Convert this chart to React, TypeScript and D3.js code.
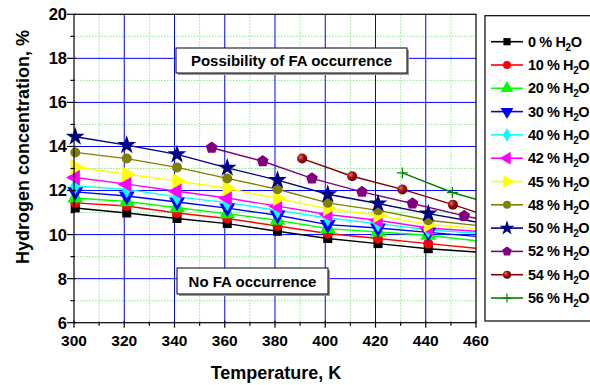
import React from "react";
import * as d3 from "d3";

const W = 590;
const H = 385;
const M = { left: 74, right: 476, top: 14.3, bottom: 322.7 };

const xTicks = [300, 320, 340, 360, 380, 400, 420, 440, 460];
const yTicks = [6, 8, 10, 12, 14, 16, 18, 20];
const xMinor = [310, 330, 350, 370, 390, 410, 430, 450];
const yMinor = [7, 9, 11, 13, 15, 17, 19];

const tBase = [300.5, 321, 341, 361, 381, 401, 421, 441, 460];

const water = ["0", "10", "20", "30", "40", "42", "45", "48", "50", "52", "54", "56"];
const colors = ["#000000", "#ff0000", "#00ff00", "#0000ff", "#00ffff", "#ff00ff", "#ffff00", "#808000", "#000080", "#800080", "#800000", "#008000"];
const markers = ["square", "circle", "up", "down", "diamond", "left", "right", "circle", "star", "pentagon", "sphere", "cross"];

const v0 = [11.21, 10.98, 10.73, 10.5, 10.15, 9.82, 9.59, 9.36, 9.21];
const v10 = [11.44, 11.3, 10.98, 10.73, 10.39, 10.05, 9.82, 9.59, 9.38];
const v20 = [11.66, 11.5, 11.22, 10.95, 10.65, 10.27, 10.12, 9.97, 9.72];
const v30 = [11.94, 11.75, 11.48, 11.2, 10.88, 10.45, 10.3, 10.1, 9.92];
const v40 = [12.21, 12.05, 11.71, 11.45, 11.1, 10.75, 10.5, 10.22, 10.06];
const v42 = [12.59, 12.29, 11.97, 11.66, 11.29, 10.91, 10.65, 10.3, 10.15];
const v45 = [13.07, 12.74, 12.44, 12.09, 11.64, 11.18, 10.88, 10.45, 10.28];
const v48 = [13.73, 13.45, 13.05, 12.55, 12.06, 11.44, 11.1, 10.65, 10.42];
const v50 = [14.44, 14.06, 13.64, 13.03, 12.47, 11.83, 11.41, 10.95, 10.57];
const t52 = [354.8, 375.1, 394.7, 414.6, 434.7, 455.3, 460];
const v52 = [13.94, 13.33, 12.55, 11.94, 11.41, 10.85, 10.74];
const t54 = [390.8, 410.7, 430.7, 450.8, 460];
const v54 = [13.45, 12.65, 12.05, 11.36, 11.02];
const t56 = [430.7, 450.6, 460];
const v56 = [12.8, 11.91, 11.6];

const seriesT = [tBase, tBase, tBase, tBase, tBase, tBase, tBase, tBase, tBase, t52, t54, t56];
const seriesV = [v0, v10, v20, v30, v40, v42, v45, v48, v50, v52, v54, v56];

const x = d3.scaleLinear().domain([300, 460]).range([M.left, M.right]);
const y = d3.scaleLinear().domain([6, 20]).range([M.bottom, M.top]);

const FONT = "Arial, 'Liberation Sans', Helvetica, sans-serif";

function pentagon(r: number) {
  const pts: string[] = [];
  for (let i = 0; i < 5; i++) {
    const a = -Math.PI / 2 + (i * 2 * Math.PI) / 5;
    pts.push(`${(r * Math.cos(a)).toFixed(2)},${(r * Math.sin(a)).toFixed(2)}`);
  }
  return "M" + pts.join("L") + "Z";
}

function Marker({ type, color, cx, cy, s }: { type: string; color: string; cx: number; cy: number; s: number }) {
  const tr = `translate(${cx},${cy})`;
  if (type === "square") {
    const a = 9 * s;
    return <rect x={cx - a / 2} y={cy - a / 2} width={a} height={a} fill={color} />;
  }
  if (type === "circle") return <circle cx={cx} cy={cy} r={5 * s} fill={color} />;
  if (type === "sphere") return <circle cx={cx} cy={cy} r={5 * s} fill="url(#sphereGrad)" />;
  if (type === "diamond") {
    const p = d3.symbol().type(d3.symbolDiamond).size(85 * s * s)() as string;
    return <path d={p} transform={tr} fill={color} />;
  }
  if (type === "star") {
    const p = d3.symbol().type(d3.symbolStar).size(110 * s * s)() as string;
    return <path d={p} transform={tr} fill={color} />;
  }
  if (type === "pentagon") return <path d={pentagon(6.2 * s)} transform={tr} fill={color} />;
  if (type === "cross") {
    const a = 5.5 * s;
    return (
      <g transform={tr} stroke={color} strokeWidth={1.2}>
        <line x1={-a} x2={a} y1={0} y2={0} />
        <line x1={0} x2={0} y1={-a} y2={a} />
      </g>
    );
  }
  const rot = type === "up" ? 0 : type === "down" ? 180 : type === "left" ? -90 : 90;
  const p = d3.symbol().type(d3.symbolTriangle).size(110 * s * s)() as string;
  return <path d={p} transform={`${tr} rotate(${rot})`} fill={color} />;
}

export default function App() {
  const line = d3
    .line<[number, number]>()
    .x((d) => x(d[0]))
    .y((d) => y(d[1]));

  const legendX = 485;
  const legendTop = 15.7;
  const legendY0 = 41.7;
  const legendStep = 23.3;

  return (
    <svg width={W} height={H} style={{ position: "absolute", left: 0, top: 0, background: "#fff" }} fontFamily={FONT}>
      <defs>
        <radialGradient id="sphereGrad" cx="0.35" cy="0.35" r="0.7">
          <stop offset="0" stopColor="#e07070" />
          <stop offset="0.45" stopColor="#a01010" />
          <stop offset="1" stopColor="#600000" />
        </radialGradient>
        <clipPath id="plotClip">
          <rect x={M.left} y={M.top} width={M.right - M.left} height={M.bottom - M.top} />
        </clipPath>
      </defs>
      <rect width={W} height={H} fill="#fff" />

      {/* minor grid */}
      <g stroke="#8ee88e" strokeWidth={1} strokeDasharray="1.5 1.5">
        {xMinor.map((t) => (
          <line key={"xm" + t} x1={x(t)} x2={x(t)} y1={M.top} y2={M.bottom} />
        ))}
        {yMinor.map((t) => (
          <line key={"ym" + t} x1={M.left} x2={M.right} y1={y(t)} y2={y(t)} />
        ))}
      </g>
      {/* major grid */}
      <g stroke="#0000ff" strokeWidth={1}>
        {xTicks.slice(1, -1).map((t) => (
          <line key={"xg" + t} x1={x(t)} x2={x(t)} y1={M.top} y2={M.bottom} />
        ))}
        {yTicks.slice(1, -1).map((t) => (
          <line key={"yg" + t} x1={M.left} x2={M.right} y1={y(t)} y2={y(t)} />
        ))}
      </g>

      {/* series lines */}
      <g clipPath="url(#plotClip)" fill="none" strokeWidth={1.4}>
        {seriesV.map((vals, i) => (
          <path key={"l" + i} d={line(vals.map((v, j) => [seriesT[i][j], v]) as [number, number][]) as string} stroke={colors[i]} />
        ))}
      </g>
      {/* series markers */}
      <g>
        {seriesV.map((vals, i) =>
          vals.slice(0, -1).map((v, j) => (
            <Marker key={"m" + i + "_" + j} type={markers[i]} color={colors[i]} cx={x(seriesT[i][j])} cy={y(v)} s={1} />
          ))
        )}
      </g>

      {/* frame and axes */}
      <rect x={M.left} y={M.top} width={M.right - M.left} height={M.bottom - M.top} fill="none" stroke="#000" strokeWidth={1.2} />
      <g stroke="#000" strokeWidth={1.2}>
        {yTicks.map((t) => (
          <line key={"yt" + t} x1={M.left - 7} x2={M.left + 2} y1={y(t)} y2={y(t)} />
        ))}
        {yMinor.map((t) => (
          <line key={"ymt" + t} x1={M.left - 3.5} x2={M.left + 1} y1={y(t)} y2={y(t)} />
        ))}
        {xTicks.map((t) => (
          <line key={"xt" + t} x1={x(t)} x2={x(t)} y1={M.bottom - 2} y2={M.bottom + 5} />
        ))}
        {xMinor.map((t) => (
          <line key={"xmt" + t} x1={x(t)} x2={x(t)} y1={M.bottom - 1} y2={M.bottom + 3} />
        ))}
      </g>

      {/* tick labels */}
      <g fontSize={16.5} fontWeight="bold" fill="#000" textAnchor="end">
        {yTicks.map((t) => (
          <text key={"yl" + t} x={67} y={y(t)} dy="0.36em">
            {t}
          </text>
        ))}
      </g>
      <g fontSize={15.5} fontWeight="bold" fill="#000" textAnchor="middle">
        {xTicks.map((t) => (
          <text key={"xl" + t} x={x(t)} y={346}>
            {t}
          </text>
        ))}
      </g>

      {/* axis titles */}
      <text x={276} y={379} fontSize={18} fontWeight="bold" textAnchor="middle">
        Temperature, K
      </text>
      <text transform="translate(29,147) rotate(-90)" fontSize={18} fontWeight="bold" textAnchor="middle">
        Hydrogen concentration, %
      </text>

      {/* annotation boxes */}
      <rect x={178} y={50} width={231} height={25} fill="#999" />
      <rect x={176} y={48} width={231} height={25} fill="#fff" stroke="#000" strokeWidth={1} />
      <text x={291.5} y={66} fontSize={15} fontWeight="bold" textAnchor="middle">
        Possibility of FA occurrence
      </text>
      <rect x={179} y={270} width={151} height={26} fill="#999" />
      <rect x={177} y={268} width={151} height={26} fill="#fff" stroke="#000" strokeWidth={1} />
      <text x={252.5} y={287} fontSize={15} fontWeight="bold" textAnchor="middle">
        No FA occurrence
      </text>

      {/* legend */}
      <rect x={legendX} y={legendTop} width={130} height={321 - legendTop} fill="#fff" stroke="#000" strokeWidth={1.2} />
      {water.map((w, i) => {
        const ly = legendY0 + i * legendStep;
        return (
          <g key={"lg" + i}>
            <line x1={491} x2={523} y1={ly} y2={ly} stroke={colors[i]} strokeWidth={1.6} />
            <Marker type={markers[i]} color={colors[i]} cx={507} cy={ly} s={0.8} />
            <text x={528} y={ly + 5} fontSize={14.5} fontWeight="bold" letterSpacing={-0.4}>
              {w + " % H"}
              <tspan fontSize={10} dy={4}>2</tspan>
              <tspan dy={-4}>O</tspan>
            </text>
          </g>
        );
      })}
    </svg>
  );
}
